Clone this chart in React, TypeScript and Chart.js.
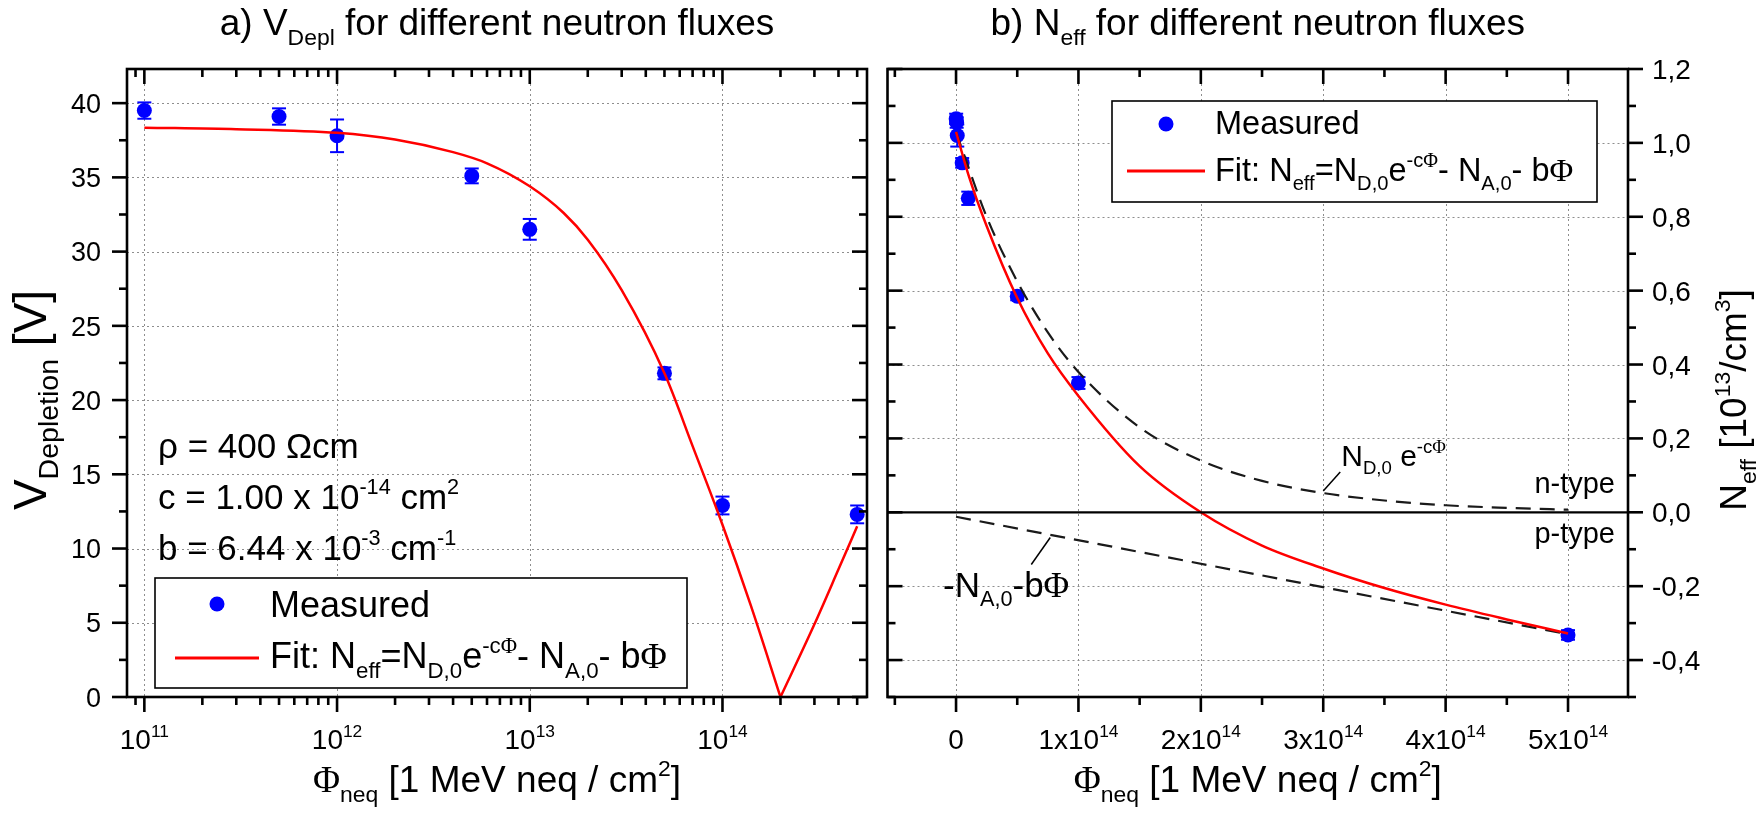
import React, { useEffect, useRef } from "react";
import { Chart, registerables } from "chart.js";
Chart.register(...registerables);

// ---------------- data ----------------
const fluence = [1e11, 5e11, 1e12, 5e12, 1e13, 5e13, 1e14, 5e14];
const vDepletion = [39.5, 39.1, 37.8, 35.1, 31.5, 21.8, 12.9, 12.3];
const vDepletionErr = [0.55, 0.55, 1.1, 0.5, 0.7, 0.4, 0.6, 0.6];

const vFitFluenceA = [1e11, 3e11, 1e12, 2e12, 4e12, 6e12, 1e13, 1.5e13, 2e13, 3e13, 5e13, 7e13, 1e14, 1.4e14, 2e14];
const vFitA = [38.35, 38.25, 38.0, 37.55, 36.7, 35.95, 34.4, 32.6, 30.8, 27.4, 21.8, 16.9, 11.6, 6.2, 0];
const vFitFluenceB = [2e14, 3e14, 4e14, 5e14];
const vFitB = [0, 4.9, 8.6, 11.5];

const neff = [1.065, 1.055, 1.02, 0.946, 0.85, 0.585, 0.35, -0.332];
const neffErr = [0.014, 0.014, 0.03, 0.013, 0.018, 0.011, 0.016, 0.013];

const neffFitFluence = [0, 1e13, 2.5e13, 5e13, 7.5e13, 1e14, 1.5e14, 2e14, 2.5e14, 3e14, 3.5e14, 4e14, 4.5e14, 5e14];
const neffFit = [1.03, 0.915, 0.775, 0.58, 0.43, 0.315, 0.125, 0, -0.09, -0.152, -0.205, -0.25, -0.29, -0.328];

const donorFluence = [0, 2.5e13, 5e13, 7.5e13, 1e14, 1.5e14, 2e14, 2.5e14, 3e14, 3.5e14, 4e14, 4.5e14, 5e14];
const donorTerm = [1.03, 0.8, 0.625, 0.487, 0.38, 0.23, 0.14, 0.085, 0.052, 0.032, 0.019, 0.012, 0.007];

const acceptorFluence = [0, 5e14];
const acceptorTerm = [-0.012, -0.33];

// tick values / labels
const logTicks = [1e11, 1e12, 1e13, 1e14];
const logTickExp = ["11", "12", "13", "14"];
const vTicks = [0, 5, 10, 15, 20, 25, 30, 35, 40];
const linTicks = [0, 1e14, 2e14, 3e14, 4e14, 5e14];
const linTickMant = ["0", "1", "2", "3", "4", "5"];
const neffTicks = [-0.4, -0.2, 0, 0.2, 0.4, 0.6, 0.8, 1.0, 1.2];
const neffTickLabels = ["-0,4", "-0,2", "0,0", "0,2", "0,4", "0,6", "0,8", "1,0", "1,2"];

// ---------------- text helpers ----------------
type Seg = { t: string; k?: "sub" | "sup"; g?: boolean };
const SANS = "'Liberation Sans', Arial, sans-serif";
const SERIF = "'Liberation Serif', 'Times New Roman', serif";

function segFont(s: Seg, size: number) {
  const sz = s.k ? size * 0.62 : size;
  return `${sz}px ${s.g ? SERIF : SANS}`;
}
function measure(ctx: CanvasRenderingContext2D, segs: Seg[], size: number) {
  let w = 0;
  for (const s of segs) {
    ctx.font = segFont(s, size);
    w += ctx.measureText(s.t).width;
  }
  return w;
}
function drawRich(
  ctx: CanvasRenderingContext2D,
  segs: Seg[],
  x: number,
  y: number,
  size: number,
  align: "left" | "center" | "right" = "left"
) {
  const w = measure(ctx, segs, size);
  let cx = align === "left" ? x : align === "center" ? x - w / 2 : x - w;
  ctx.fillStyle = "#000";
  ctx.textAlign = "left";
  ctx.textBaseline = "alphabetic";
  for (const s of segs) {
    ctx.font = segFont(s, size);
    const dy = s.k === "sub" ? size * 0.27 : s.k === "sup" ? -size * 0.42 : 0;
    ctx.fillText(s.t, cx, y + dy);
    cx += ctx.measureText(s.t).width;
  }
}
function drawRotated(ctx: CanvasRenderingContext2D, segs: Seg[], x: number, y: number, size: number) {
  ctx.save();
  ctx.translate(x, y);
  ctx.rotate(-Math.PI / 2);
  drawRich(ctx, segs, 0, 0, size, "center");
  ctx.restore();
}
function line(ctx: CanvasRenderingContext2D, x1: number, y1: number, x2: number, y2: number) {
  ctx.beginPath();
  ctx.moveTo(x1, y1);
  ctx.lineTo(x2, y2);
  ctx.stroke();
}

const GRID = "#8e8e8e";
const MAJ = 15;
const MIN = 8;
const AXW = 2.6;

function drawGrid(chart: any, xs: number[], ys: number[]) {
  const { ctx, chartArea: a, scales } = chart;
  ctx.save();
  ctx.strokeStyle = GRID;
  ctx.lineWidth = 1;
  ctx.setLineDash([2, 3]);
  for (const v of xs) {
    const p = Math.round(scales.x.getPixelForValue(v)) + 0.5;
    line(ctx, p, a.top, p, a.bottom);
  }
  for (const v of ys) {
    const p = Math.round(scales.y.getPixelForValue(v)) + 0.5;
    line(ctx, a.left, p, a.right, p);
  }
  ctx.restore();
}

function drawErrorBars(chart: any, xv: number[], yv: number[], ev: number[]) {
  const { ctx, scales } = chart;
  ctx.save();
  ctx.strokeStyle = "#0000ff";
  ctx.lineWidth = 2;
  for (let i = 0; i < xv.length; i++) {
    const px = scales.x.getPixelForValue(xv[i]);
    const p1 = scales.y.getPixelForValue(yv[i] + ev[i]);
    const p2 = scales.y.getPixelForValue(yv[i] - ev[i]);
    line(ctx, px, p1, px, p2);
    line(ctx, px - 7, p1, px + 7, p1);
    line(ctx, px - 7, p2, px + 7, p2);
  }
  ctx.restore();
}

const fitSegs: Seg[] = [
  { t: "Fit: N" }, { t: "eff", k: "sub" }, { t: "=N" }, { t: "D,0", k: "sub" }, { t: "e" },
  { t: "-c", k: "sup" }, { t: "Φ", k: "sup", g: true }, { t: "- N" }, { t: "A,0", k: "sub" }, { t: "- b" }, { t: "Φ", g: true },
];

// ---------------- left chart decoration ----------------
const leftDecor = {
  id: "leftDecor",
  beforeDatasetsDraw(chart: any) {
    drawGrid(chart, logTicks, vTicks);
    drawErrorBars(chart, fluence, vDepletion, vDepletionErr);
  },
  afterDatasetsDraw(chart: any) {
    const { ctx, chartArea: a, scales } = chart;
    const x = scales.x;
    const y = scales.y;
    ctx.save();
    ctx.strokeStyle = "#000";
    ctx.lineWidth = AXW;
    ctx.strokeRect(a.left, a.top, a.right - a.left, a.bottom - a.top);
    for (let e = 10; e <= 14; e++) {
      for (let m = 1; m <= 9; m++) {
        const v = m * Math.pow(10, e);
        if (v < x.min || v > x.max) continue;
        const p = x.getPixelForValue(v);
        const len = m === 1 ? MAJ : MIN;
        line(ctx, p, a.bottom, p, a.bottom + len);
        line(ctx, p, a.top, p, a.top + len);
      }
    }
    for (let v = 0; v <= y.max + 1e-9; v += 2.5) {
      const p = y.getPixelForValue(v);
      const len = Math.abs(v % 5) < 1e-9 ? MAJ : MIN;
      line(ctx, a.left - len, p, a.left, p);
      line(ctx, a.right - len, p, a.right, p);
    }
    ctx.restore();

    vTicks.forEach((v) => {
      drawRich(ctx, [{ t: String(v) }], a.left - 26, y.getPixelForValue(v) + 9.7, 27, "right");
    });
    logTicks.forEach((v, i) => {
      drawRich(ctx, [{ t: "10" }, { t: logTickExp[i], k: "sup" }], x.getPixelForValue(v), 749, 28, "center");
    });

    drawRich(ctx, [{ t: "a) V" }, { t: "Depl", k: "sub" }, { t: " for different neutron fluxes" }], (a.left + a.right) / 2, 35, 37, "center");
    drawRich(ctx, [{ t: "Φ", g: true }, { t: "neq", k: "sub" }, { t: " [1 MeV neq / cm" }, { t: "2", k: "sup" }, { t: "]" }], (a.left + a.right) / 2, 792, 37, "center");
    drawRotated(ctx, [{ t: "V" }, { t: "Depletion", k: "sub" }, { t: " [V]" }], 46, 400, 46);

    drawRich(ctx, [{ t: "ρ = 400 Ωcm" }], 158, 458, 35);
    drawRich(ctx, [{ t: "c = 1.00 x 10" }, { t: "-14", k: "sup" }, { t: " cm" }, { t: "2", k: "sup" }], 158, 509, 35);
    drawRich(ctx, [{ t: "b = 6.44 x 10" }, { t: "-3", k: "sup" }, { t: " cm" }, { t: "-1", k: "sup" }], 158, 560, 35);

    ctx.save();
    ctx.fillStyle = "#fff";
    ctx.fillRect(155, 578, 532, 110);
    ctx.strokeStyle = "#000";
    ctx.lineWidth = 1.6;
    ctx.strokeRect(155, 578, 532, 110);
    ctx.fillStyle = "#0000ff";
    ctx.beginPath();
    ctx.arc(217, 604, 7.5, 0, Math.PI * 2);
    ctx.fill();
    ctx.strokeStyle = "#ff0000";
    ctx.lineWidth = 3;
    line(ctx, 175, 658, 259, 658);
    ctx.restore();
    drawRich(ctx, [{ t: "Measured" }], 270, 617, 36);
    drawRich(ctx, fitSegs, 270, 668, 36);
  },
};

// ---------------- right chart decoration ----------------
const rightDecor = {
  id: "rightDecor",
  beforeDatasetsDraw(chart: any) {
    drawGrid(chart, linTicks, neffTicks);
    drawErrorBars(chart, fluence, neff, neffErr);
  },
  afterDatasetsDraw(chart: any) {
    const { ctx, chartArea: a, scales } = chart;
    const x = scales.x;
    const y = scales.y;
    ctx.save();
    ctx.strokeStyle = "#000";
    ctx.lineWidth = AXW;
    ctx.strokeRect(a.left, a.top, a.right - a.left, a.bottom - a.top);
    ctx.lineWidth = 2.2;
    const z = y.getPixelForValue(0);
    line(ctx, a.left, z, a.right, z);
    ctx.lineWidth = AXW;
    for (let k = -1; k <= 11; k++) {
      const v = k * 0.5e14;
      if (v < x.min - 1 || v > x.max + 1) continue;
      const p = x.getPixelForValue(v);
      const len = k % 2 === 0 ? MAJ : MIN;
      line(ctx, p, a.bottom, p, a.bottom + len);
      line(ctx, p, a.top, p, a.top + len);
    }
    for (let k = -5; k <= 12; k++) {
      const v = k / 10;
      if (v < y.min - 1e-9 || v > y.max + 1e-9) continue;
      const p = y.getPixelForValue(v);
      const len = Math.abs(k % 2) === 0 ? MAJ : MIN;
      line(ctx, a.right, p, a.right + len, p);
      line(ctx, a.left, p, a.left + len, p);
    }
    ctx.restore();

    neffTicks.forEach((v, i) => {
      drawRich(ctx, [{ t: neffTickLabels[i] }], a.right + 24, y.getPixelForValue(v) + 10, 28, "left");
    });
    linTicks.forEach((v, i) => {
      const segs: Seg[] = i === 0 ? [{ t: "0" }] : [{ t: linTickMant[i] + "x10" }, { t: "14", k: "sup" }];
      drawRich(ctx, segs, x.getPixelForValue(v), 749, 28, "center");
    });

    drawRich(ctx, [{ t: "b) N" }, { t: "eff", k: "sub" }, { t: " for different neutron fluxes" }], (a.left + a.right) / 2, 35, 37, "center");
    drawRich(ctx, [{ t: "Φ", g: true }, { t: "neq", k: "sub" }, { t: " [1 MeV neq / cm" }, { t: "2", k: "sup" }, { t: "]" }], (a.left + a.right) / 2, 792, 37, "center");
    drawRotated(ctx, [{ t: "N" }, { t: "eff", k: "sub" }, { t: " [10" }, { t: "13", k: "sup" }, { t: "/cm" }, { t: "3", k: "sup" }, { t: "]" }], 866, 400, 37);

    drawRich(ctx, [{ t: "n-type" }], 735, 493, 29, "right");
    drawRich(ctx, [{ t: "p-type" }], 735, 543, 29, "right");
    ctx.save();
    ctx.strokeStyle = "#000";
    ctx.lineWidth = 1.5;
    const lx = x.getPixelForValue(3e14);
    const ly = y.getPixelForValue(0.052);
    line(ctx, lx, ly - 2, lx + 17, ly - 21);
    const mx = x.getPixelForValue(0.77e14);
    const my = y.getPixelForValue(-0.06);
    line(ctx, mx, my + 3, mx - 19, my + 30);
    ctx.restore();
    drawRich(ctx, [{ t: "N" }, { t: "D,0", k: "sub" }, { t: " e" }, { t: "-c", k: "sup" }, { t: "Φ", k: "sup", g: true }], lx + 18, 466, 30);
    drawRich(ctx, [{ t: "-N" }, { t: "A,0", k: "sub" }, { t: "-b" }, { t: "Φ", g: true }], 63, 597, 35);

    ctx.save();
    ctx.fillStyle = "#fff";
    ctx.fillRect(232, 101, 485, 101);
    ctx.strokeStyle = "#000";
    ctx.lineWidth = 1.6;
    ctx.strokeRect(232, 101, 485, 101);
    ctx.fillStyle = "#0000ff";
    ctx.beginPath();
    ctx.arc(286, 124, 7.5, 0, Math.PI * 2);
    ctx.fill();
    ctx.strokeStyle = "#ff0000";
    ctx.lineWidth = 3;
    line(ctx, 247, 171, 325, 171);
    ctx.restore();
    drawRich(ctx, [{ t: "Measured" }], 335, 134, 32.5);
    drawRich(ctx, fitSegs, 335, 181, 32.5);
  },
};

const pts = (xs: number[], ys: number[]) => xs.map((v, i) => ({ x: v, y: ys[i] }));

export default function App() {
  const leftRef = useRef<HTMLCanvasElement>(null);
  const rightRef = useRef<HTMLCanvasElement>(null);

  useEffect(() => {
    const common = {
      responsive: false,
      animation: false as const,
      devicePixelRatio: 1,
      events: [] as any[],
      plugins: { legend: { display: false }, tooltip: { enabled: false }, title: { display: false } },
    };
    const fitStyle = { showLine: true, borderColor: "#ff0000", borderWidth: 2.5, pointRadius: 0, cubicInterpolationMode: "monotone", order: 1 };
    const dashStyle = { showLine: true, borderColor: "#1a1a1a", borderWidth: 2.2, borderDash: [15, 9], pointRadius: 0, order: 2 };
    const pointStyle = { pointRadius: 7.5, pointBackgroundColor: "#0000ff", pointBorderWidth: 0, order: 3 };
    const left = new Chart(leftRef.current!, {
      type: "scatter",
      data: {
        datasets: [
          { data: pts(vFitFluenceA, vFitA), ...fitStyle } as any,
          { data: pts(vFitFluenceB, vFitB), ...fitStyle } as any,
          { data: pts(fluence, vDepletion), ...pointStyle } as any,
        ],
      },
      options: {
        ...common,
        layout: { padding: { left: 127, right: 13, top: 69, bottom: 116 } },
        scales: {
          x: { type: "logarithmic", min: Math.pow(10, 10.91), max: Math.pow(10, 14.75), display: false },
          y: { type: "linear", min: 0, max: 42.3, display: false },
        },
      } as any,
      plugins: [leftDecor],
    });
    const right = new Chart(rightRef.current!, {
      type: "scatter",
      data: {
        datasets: [
          { data: pts(neffFitFluence, neffFit), ...fitStyle } as any,
          { data: pts(donorFluence, donorTerm), ...dashStyle, cubicInterpolationMode: "monotone" } as any,
          { data: pts(acceptorFluence, acceptorTerm), ...dashStyle } as any,
          { data: pts(fluence, neff), ...pointStyle } as any,
        ],
      },
      options: {
        ...common,
        layout: { padding: { left: 4, right: 132, top: 69, bottom: 116 } },
        scales: {
          x: { type: "linear", min: -0.56e14, max: 5.49e14, display: false },
          y: { type: "linear", min: -0.5, max: 1.2, display: false },
        },
      } as any,
      plugins: [rightDecor],
    });
    return () => {
      left.destroy();
      right.destroy();
    };
  }, []);

  return (
    <div style={{ position: "absolute", left: 0, top: 0, width: 1760, height: 813, background: "#fff", overflow: "hidden" }}>
      <canvas ref={leftRef} width={880} height={813} style={{ position: "absolute", left: 0, top: 0, width: 880, height: 813 }} />
      <canvas ref={rightRef} width={880} height={813} style={{ position: "absolute", left: 880, top: 0, width: 880, height: 813 }} />
    </div>
  );
}
